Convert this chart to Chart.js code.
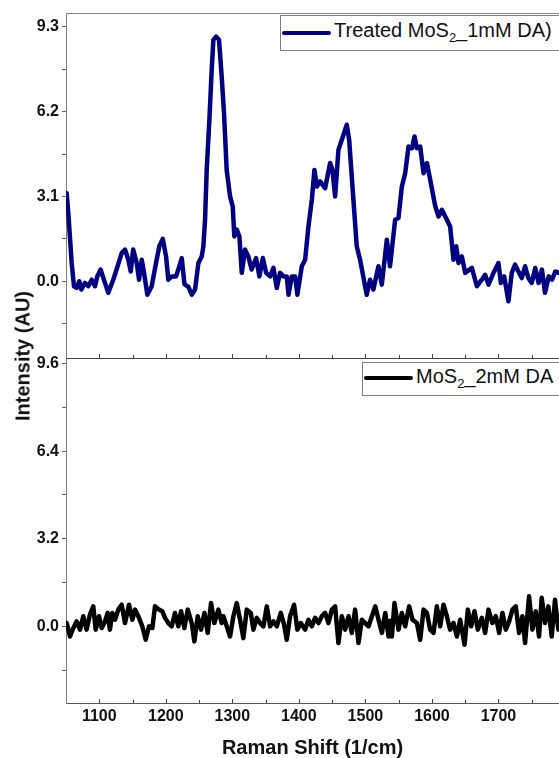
<!DOCTYPE html>
<html>
<head>
<meta charset="utf-8">
<script src="https://cdn.jsdelivr.net/npm/chart.js@4.4.0/dist/chart.umd.min.js"></script>
<style>
  html, body { margin: 0; padding: 0; background: #fff; overflow: hidden; }
  #wrap { position: relative; width: 559px; height: 758px; }
  .legend {
    position: absolute; left: 0; border: 1px solid #808080; border-right: none;
    background: #fff; font-family: "Liberation Sans", Arial, sans-serif; font-size: 20px; color: #111;
  }
  .legend .swatch { position: absolute; left: 1px; width: 49px; height: 4px; border-radius: 2px; }
  .legend .label { position: absolute; left: 53px; line-height: 20px; white-space: nowrap; }
  .legend sub { font-size: 13px; line-height: 0; vertical-align: -5px; }
  #ytitle {
    position: absolute; left: 23px; top: 356px; transform: translate(-50%, -50%) rotate(-90deg);
    font: bold 20px "Liberation Sans", Arial, sans-serif; color: #111; white-space: nowrap;
  }
</style>
</head>
<body>
<div id="wrap">
  <canvas id="ramanChart" width="559" height="758"></canvas>
  <div id="ytitle">Intensity (AU)</div>
  <div class="legend" style="left:280px; top:15px; width:279px; height:34px;">
    <div class="swatch" style="top:15px; background:#000080;"></div>
    <div class="label" style="top:4px;">Treated MoS<sub>2</sub>_1mM DA)</div>
  </div>
  <div class="legend" style="left:362px; top:362px; width:197px; height:32px;">
    <div class="swatch" style="top:13px; background:#000;"></div>
    <div class="label" style="top:3px;">MoS<sub>2</sub>_2mM DA</div>
  </div>
</div>
<script>
// Raman shift (1/cm) and intensity
const ramanTop = [1051, 1053.5, 1058.5, 1062, 1066, 1070, 1073, 1078.6, 1083.5, 1088.6, 1093.6, 1097, 1102, 1107, 1113.6,
  1121, 1126, 1133.8, 1138.7, 1143.7, 1147.3, 1151, 1156.3, 1159.8, 1163.8, 1167.3, 1172.3, 1178.8, 1185.3, 1190.3,
  1195.4, 1200.4, 1203.8, 1208.9, 1215.4, 1220.4, 1224, 1228, 1234, 1239, 1244, 1249, 1254, 1256.5, 1259, 1261.5,
  1265.5, 1269, 1271.5, 1275.5, 1280, 1284, 1287.5, 1291.5, 1296.6, 1300.6, 1303, 1306.7, 1310.6, 1314.2, 1319, 1324,
  1329, 1335.7, 1340.7, 1345.8, 1350.8, 1356.8, 1361.8, 1366.8, 1371.8, 1376.8, 1381.9, 1384.4, 1389.4, 1394.4, 1397.8,
  1404.4, 1409.4, 1414.4, 1419.5, 1423.4, 1427, 1432, 1439.5, 1447, 1450.5, 1454.5, 1459.5, 1464.6, 1472, 1475.6, 1482,
  1487, 1492, 1502, 1507, 1512, 1519.6, 1524.7, 1532.2, 1537, 1544.7, 1549.7, 1554.8, 1559.8, 1564.8, 1569.9, 1573.8,
  1577.4, 1582.4, 1587.4, 1592.5, 1597.4, 1605, 1610, 1615, 1622.5, 1627.4, 1632.4, 1636.5, 1640, 1645, 1650, 1660,
  1667.6, 1675, 1680, 1685, 1692.6, 1700, 1703.6, 1708.6, 1715, 1720, 1725, 1730, 1735, 1740, 1745, 1750, 1755.3,
  1760.3, 1765.3, 1770, 1775.5, 1780.5, 1785.5, 1790.5];
const treated1mM = [3.22, 2.49, 0.68, -0.18, -0.24, 0.0, -0.3, -0.06, -0.18, 0.06, -0.18, 0.18, 0.43, 0.06, -0.42,
  0.06, 0.43, 1.04, 1.16, 0.79, 0.36, 1.16, 0.67, 0.06, 0.79, 0.31, -0.49, -0.18, 0.67, 1.28,
  1.55, 0.91, 0.06, 0.18, 0.18, 0.55, 0.85, -0.1, -0.2, -0.49, -0.3, 0.67, 0.91, 1.28, 2.25, 4.07,
  5.9, 7.72, 8.82, 8.94, 8.82, 7.48, 6.14, 4.07, 3.1, 2.74, 1.64, 1.89, 1.64, 0.31, 1.16, 0.91,
  0.43, 0.85, 0.18, 0.85, 0.31, 0.18, 0.49, -0.24, 0.31, 0.18, 0.18, -0.49, 0.18, 0.18, -0.49,
  0.55, 0.79, 2.0, 2.98, 4.07, 3.46, 3.65, 3.4, 4.32, 4.07, 3.1, 4.8, 5.17, 5.72, 5.17, 2.98,
  1.28, 0.79, -0.49, 0.06, -0.3, 0.55, -0.12, 1.52, 0.55, 2.25, 2.31, 3.46, 3.95, 4.92, 4.86, 5.29,
  4.86, 4.92, 3.95, 4.32, 3.71, 2.74, 2.37, 2.61, 2.25, 2.0, 0.79, 1.28, 0.67, 0.91, 0.31, 0.49,
  -0.18, 0.06, 0.24, -0.12, 0.31, 0.67, -0.06, 0.18, -0.73, 0.31, 0.61, 0.36, 0.12, 0.55, 0.12, -0.06, 0.49,
  -0.06, 0.43, -0.42, 0.18, 0.06, 0.36, 0.31];

const ramanBottom = [1051, 1056, 1061, 1066, 1071, 1076, 1081, 1086, 1091, 1094.6, 1099.6, 1103.7, 1108.6, 1112.6, 1116,
  1119.6, 1123.7, 1128.6, 1133.7, 1138.7, 1144.7, 1149.7, 1153.8, 1158.7, 1164.7, 1169.8, 1174.8, 1179.8, 1183.8, 1189.8,
  1194.8, 1198.8, 1203.8, 1208.8, 1213.8, 1218.8, 1222.9, 1227.9, 1233, 1239, 1242.9, 1248, 1253, 1258, 1263, 1268,
  1273, 1279, 1284, 1286.6, 1291.6, 1296.6, 1301.6, 1306.6, 1311.6, 1316.6, 1321.7, 1327.7, 1331.7, 1336.7, 1341.7,
  1346.7, 1351.8, 1356.8, 1361.7, 1366.8, 1372.8, 1377.8, 1381.8, 1386.8, 1392.8, 1397.8, 1402.9, 1409.4, 1414.4,
  1419.4, 1424.4, 1429.5, 1434.5, 1439.5, 1444.5, 1449.6, 1454.5, 1459.5, 1464.6, 1469.6, 1474.6, 1479.6, 1484.6,
  1489.6, 1494.7, 1499.7, 1504.7, 1509.8, 1514.8, 1519.8, 1524.8, 1529.8, 1534.8, 1537.5, 1539.8, 1543.7, 1549.8,
  1554.8, 1559.8, 1565.8, 1570.8, 1577.4, 1582.4, 1587.4, 1592.4, 1597.4, 1602.4, 1607.4, 1612.4, 1617.4, 1622.4,
  1627.4, 1632.4, 1637.5, 1642.5, 1649, 1654, 1659, 1664, 1669, 1675, 1680, 1685, 1691, 1696, 1701, 1706, 1711,
  1716, 1721, 1726, 1731, 1736, 1740, 1746, 1751, 1756, 1761, 1765, 1770, 1775, 1780, 1785, 1790];
const mos2_2mM = [0.12, -0.37, -0.06, 0.18, -0.12, 0.37, -0.12, 0.43, 0.73, -0.12, 0.37, -0.06, 0.18, 0.49, -0.12,
  0.49, 0.24, 0.61, 0.79, 0.12, 0.79, 0.24, 0.61, 0.37, 0.0, -0.49, 0.0, -0.06, 0.73, 0.61,
  0.55, 0.31, 0.12, 0.0, 0.49, 0.0, 0.55, -0.06, 0.61, 0.12, -0.55, 0.37, -0.12, 0.49, -0.24, 0.85,
  0.12, 0.61, 0.12, 0.37, 0.0, -0.37, 0.37, 0.85, 0.24, -0.43, 0.61, 0.49, -0.12, 0.31, 0.12,
  0.0, 0.73, 0.0, 0.18, 0.0, 0.49, 0.06, -0.49, 0.37, 0.79, -0.12, 0.12, -0.12, 0.24,
  0.0, 0.31, 0.12, 0.37, 0.49, 0.12, 0.61, 0.73, -0.61, 0.37, -0.12, 0.37, -0.24, 0.61,
  -0.61, 0.24, 0.12, 0.0, 0.37, 0.73, 0.24, -0.24, 0.49, -0.37, 0.2, -0.37, 0.85, -0.12,
  0.49, 0.0, 0.73, 0.24, 0.12, -0.49, 0.61, 0.49, -0.12, -0.24, 0.73, 0.0, 0.79, 0.37,
  -0.12, 0.12, -0.37, 0.24, -0.67, 0.61, 0.0, 0.55, -0.12, 0.31, -0.24, 0.61, 0.12, 0.37, -0.24, 0.49, -0.12,
  0.18, 0.61, 0.73, -0.24, 0.37, -0.61, 1.1, -0.12, 0.55, -0.37, 1.04, 0.12, 0.73, -0.37, 0.97, -0.12];

// tick labels
const xMajor = [1100, 1200, 1300, 1400, 1500, 1600, 1700];
const xMinor = [1150, 1250, 1350, 1450, 1550, 1650, 1750];
const topMajor = [0, 3.1, 6.2, 9.3];
const topMinor = [-1.55, 1.55, 4.65, 7.75];
const bottomMajor = [0, 3.2, 6.4, 9.6];
const bottomMinor = [-1.6, 1.6, 4.8, 8.0];

const fontFamily = '"Liberation Sans", Arial, sans-serif';
const tickFont = { family: fontFamily, size: 16, weight: 'bold' };

function panelAxis(majors, minors) {
  return {
    type: 'linear',
    position: 'left',
    stack: 'panels',
    stackWeight: 1,
    min: -2.8,
    max: 9.8,
    afterBuildTicks: (s) => {
      s.ticks = majors.concat(minors).sort((a, b) => a - b).map(v => ({ value: v }));
    },
    afterFit: (s) => { s.width = 66; },
    ticks: {
      autoSkip: false,
      font: tickFont,
      color: '#111',
      padding: 3,
      callback: (v) => majors.includes(v) ? v.toFixed(1) : ''
    },
    grid: { drawOnChartArea: false, tickLength: 4, color: '#666' },
    border: { color: '#808080', width: 1 }
  };
}

// inward x ticks at both panel bottoms, plus the top frame line and panel divider
const panelFrame = {
  id: 'panelFrame',
  afterDraw(chart) {
    const { ctx, chartArea, scales } = chart;
    const x = scales.x;
    const panels = [scales.yTop, scales.yBottom];
    ctx.save();
    ctx.lineWidth = 1;
    ctx.strokeStyle = '#888';
    ctx.beginPath();
    ctx.moveTo(chartArea.left, Math.round(chartArea.top) + 0.5);
    ctx.lineTo(chartArea.right, Math.round(chartArea.top) + 0.5);
    ctx.stroke();
    ctx.strokeStyle = '#444';
    ctx.beginPath();
    const divide = Math.min(scales.yTop.bottom, scales.yBottom.bottom);
    ctx.moveTo(chartArea.left, Math.round(divide) + 0.5);
    ctx.lineTo(chartArea.right, Math.round(divide) + 0.5);
    xMajor.concat(xMinor).forEach(v => {
      const px = Math.round(x.getPixelForValue(v)) + 0.5;
      const len = xMajor.includes(v) ? 4 : 3;
      panels.forEach(p => {
        const b = Math.round(p.bottom);
        ctx.moveTo(px, b);
        ctx.lineTo(px, b - len);
      });
    });
    ctx.stroke();
    ctx.restore();
  }
};

const ctx = document.getElementById('ramanChart');

new Chart(ctx, {
  type: 'line',
  data: {
    datasets: [
      {
        label: 'Treated MoS2_1mM DA)',
        data: ramanTop.map((r, i) => ({ x: r, y: treated1mM[i] })),
        yAxisID: 'yTop',
        borderColor: '#000080',
        borderWidth: 4.5,
        pointRadius: 0,
        tension: 0,
        borderJoinStyle: 'round',
        borderCapStyle: 'round'
      },
      {
        label: 'MoS2_2mM DA',
        data: ramanBottom.map((r, i) => ({ x: r, y: mos2_2mM[i] })),
        yAxisID: 'yBottom',
        borderColor: '#000',
        borderWidth: 4.5,
        pointRadius: 0,
        tension: 0,
        borderJoinStyle: 'round',
        borderCapStyle: 'round'
      }
    ]
  },
  options: {
    responsive: false,
    animation: false,
    layout: { padding: { top: 13, left: 0, right: 0, bottom: 0 } },
    plugins: { legend: { display: false }, tooltip: { enabled: false } },
    scales: {
      x: {
        type: 'linear',
        min: 1050,
        max: 1791,
        afterBuildTicks: (s) => {
          s.ticks = xMajor.concat(xMinor).sort((a, b) => a - b).map(v => ({ value: v }));
        },
        afterFit: (s) => { s.height = 55; },
        ticks: {
          autoSkip: false,
          maxRotation: 0,
          font: tickFont,
          color: '#111',
          padding: 4,
          callback: (v) => xMajor.includes(v) ? String(v) : ''
        },
        grid: { drawOnChartArea: false, drawTicks: false },
        border: { color: '#555', width: 1 },
        title: {
          display: true,
          text: 'Raman Shift (1/cm)',
          color: '#111',
          font: { family: fontFamily, size: 20, weight: 'bold', lineHeight: 1 },
          padding: { top: 0, bottom: 0 }
        }
      },
      yBottom: panelAxis(bottomMajor, bottomMinor),
      yTop: panelAxis(topMajor, topMinor)
    }
  },
  plugins: [panelFrame]
});
</script>
</body>
</html>
